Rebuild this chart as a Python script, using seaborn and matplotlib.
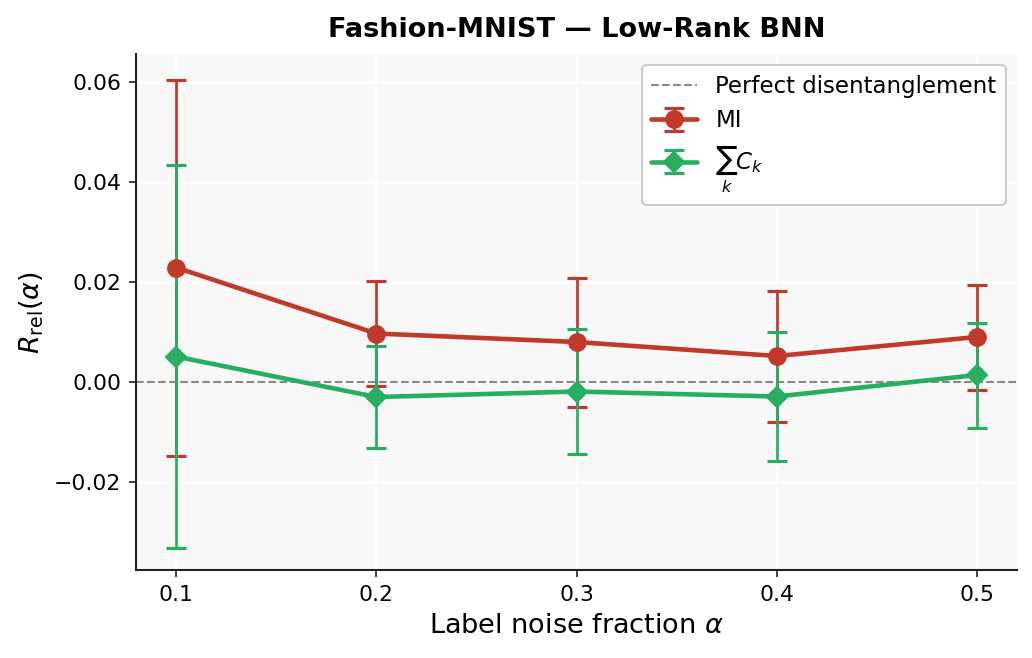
import matplotlib
matplotlib.use("Agg")
import matplotlib.pyplot as plt
import seaborn as sns
import numpy as np

noise = [0.1, 0.2, 0.3, 0.4, 0.5]
mi_mean = [0.0229, 0.0097, 0.0080, 0.0052, 0.0090]
mi_err = [0.0376, 0.0105, 0.0129, 0.0131, 0.0105]
ck_mean = [0.0051, -0.0030, -0.0019, -0.0029, 0.0014]
ck_err = [0.0383, 0.0102, 0.0125, 0.0129, 0.0105]

sns.set_style("whitegrid", {"axes.facecolor": "#f8f8f8", "grid.color": "white",
                            "axes.edgecolor": "#222222", "text.color": "black",
                            "axes.labelcolor": "black", "xtick.color": "black",
                            "ytick.color": "black"})
plt.rcParams["font.family"] = ["DejaVu Sans"]
plt.rcParams["grid.linewidth"] = 1.2

fig = plt.figure(figsize=(6.88, 4.3867), dpi=150)
ax = fig.add_axes([0.1318, 0.1337, 0.8537, 0.7842])

ax.axhline(0, color="#888888", linestyle="--", linewidth=1.0, label="Perfect disentanglement")

ax.errorbar(noise, mi_mean, yerr=mi_err, color="#c0392b", marker="o", markersize=8,
            linewidth=2.2, elinewidth=1.3, capsize=5, capthick=1.5, label="MI")
ax.errorbar(noise, ck_mean, yerr=ck_err, color="#27ae60", marker="D", markersize=7,
            linewidth=2.2, elinewidth=1.3, capsize=5, capthick=1.5, label=r"$\sum_k C_k$")

ax.set_xlim(0.08, 0.52)
ax.set_ylim(-0.0376, 0.0656)
ax.set_xticks(noise)
ax.set_yticks([-0.02, 0.0, 0.02, 0.04, 0.06])
ax.set_yticklabels(["\u22120.02", "0.00", "0.02", "0.04", "0.06"])
ax.tick_params(axis="both", labelsize=10.5, length=3.5, color="#222222", labelcolor="black",
               left=True, bottom=True)
for s in ["top", "right"]:
    ax.spines[s].set_visible(False)
for s in ["left", "bottom"]:
    ax.spines[s].set_linewidth(1.0)

ax.set_xlabel(r"Label noise fraction $\alpha$", fontsize=13, color="black")
ax.set_ylabel(r"$R_{\rm rel}(\alpha)$", fontsize=13, color="black")
ax.set_title("Fashion-MNIST \u2014 Low-Rank BNN", fontsize=13, fontweight="bold", pad=8,
             color="black")

leg = ax.legend(loc="upper right", fontsize=11, frameon=True, facecolor="white",
                edgecolor="#cccccc", framealpha=1.0)
for t in leg.get_texts():
    t.set_color("black")

fig.savefig("out.png", dpi=150)
